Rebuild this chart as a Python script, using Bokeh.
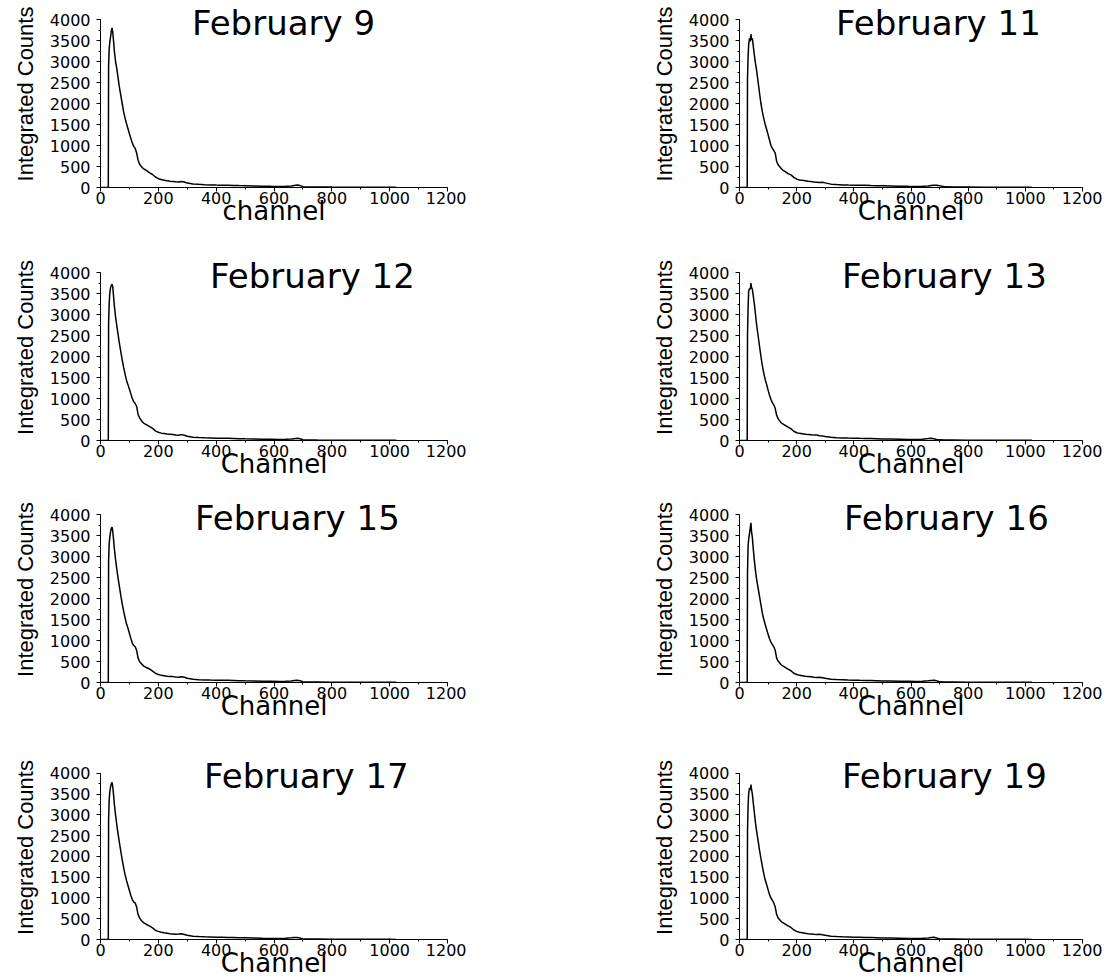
from bokeh.plotting import figure
from bokeh.layouts import column, row
from bokeh.models import SingleIntervalTicker, Range1d, Label
from bokeh.embed import file_html
from bokeh.resources import INLINE

channels = [0, 27, 28, 30, 32, 35, 38, 40, 42, 45,
            48, 52, 56, 60, 65, 70, 75, 80, 85, 90,
            95, 100, 105, 110, 115, 120, 125, 130, 135, 140,
            145, 150, 160, 170, 180, 190, 200, 210, 220, 230,
            240, 250, 260, 270, 280, 290, 300, 320, 340, 360,
            380, 400, 420, 440, 460, 480, 500, 530, 560, 590,
            620, 640, 660, 670, 680, 690, 700, 720, 750, 800,
            850, 900, 950, 1000, 1023]

dates = ["February 9", "February 11", "February 12", "February 13",
         "February 15", "February 16", "February 17", "February 19"]
x_labels = ["channel", "Channel", "Channel", "Channel",
            "Channel", "Channel", "Channel", "Channel"]
y_label = "Integrated Counts"

counts_feb09 = [0, 0, 2900, 3300, 3450, 3600, 3750, 3800, 3720, 3500,
                3250, 3000, 2850, 2650, 2400, 2200, 2000, 1800, 1650, 1520,
                1400, 1280, 1170, 1060, 980, 930, 820, 650, 560, 510,
                470, 440, 400, 350, 310, 250, 210, 190, 175, 160,
                150, 145, 135, 130, 145, 130, 105, 85, 75, 68,
                62, 58, 56, 55, 50, 45, 42, 38, 32, 28,
                25, 28, 38, 50, 58, 45, 20, 14, 11, 9,
                8, 7, 6, 5, 4]
counts_feb11 = [0, 0, 2600, 3100, 3400, 3550, 3480, 3650, 3520, 3550,
                3380, 3150, 2950, 2780, 2520, 2250, 2000, 1800, 1640, 1500,
                1380, 1260, 1130, 1000, 930, 880, 820, 620, 540, 500,
                460, 420, 380, 330, 300, 240, 200, 180, 170, 160,
                150, 145, 130, 125, 120, 125, 110, 80, 70, 62,
                58, 55, 52, 55, 48, 42, 40, 36, 32, 28,
                25, 28, 35, 45, 52, 55, 40, 15, 11, 9,
                8, 7, 6, 5, 4]
counts_feb12 = [0, 0, 2800, 3250, 3500, 3650, 3700, 3720, 3680, 3450,
                3200, 2950, 2750, 2560, 2330, 2120, 1920, 1740, 1580, 1430,
                1330, 1220, 1110, 1000, 920, 880, 810, 620, 540, 490,
                440, 410, 370, 330, 290, 230, 195, 175, 165, 155,
                150, 145, 130, 125, 140, 125, 100, 80, 70, 64,
                60, 56, 54, 52, 48, 44, 40, 36, 30, 27,
                24, 27, 34, 44, 52, 42, 18, 13, 10, 8,
                7, 6, 5, 4, 3]
counts_feb13 = [0, 0, 2500, 3150, 3550, 3620, 3600, 3750, 3650, 3600,
                3450, 3250, 3000, 2750, 2500, 2250, 2000, 1780, 1600, 1450,
                1330, 1200, 1080, 980, 900, 850, 760, 600, 520, 470,
                430, 400, 360, 320, 280, 220, 185, 170, 160, 150,
                140, 135, 128, 130, 115, 110, 95, 78, 68, 62,
                58, 55, 52, 50, 46, 42, 38, 34, 30, 26,
                24, 28, 45, 55, 40, 25, 15, 12, 10, 8,
                7, 6, 5, 4, 3]
counts_feb15 = [0, 0, 2900, 3300, 3450, 3600, 3680, 3700, 3620, 3420,
                3180, 2930, 2720, 2520, 2300, 2080, 1880, 1700, 1540, 1400,
                1290, 1170, 1050, 940, 880, 850, 760, 580, 500, 460,
                420, 390, 350, 320, 270, 220, 190, 170, 160, 150,
                145, 140, 130, 125, 135, 125, 100, 78, 68, 62,
                58, 55, 54, 52, 48, 44, 40, 36, 30, 27,
                24, 28, 36, 48, 55, 40, 18, 12, 10, 8,
                7, 6, 5, 4, 3]
counts_feb16 = [0, 0, 2600, 3250, 3400, 3550, 3700, 3800, 3600, 3450,
                3200, 2900, 2650, 2450, 2250, 2050, 1850, 1650, 1500, 1380,
                1260, 1150, 1040, 960, 900, 850, 760, 580, 510, 470,
                430, 400, 360, 320, 280, 220, 190, 170, 160, 150,
                145, 135, 125, 120, 125, 115, 100, 80, 70, 64,
                58, 55, 52, 50, 46, 42, 38, 34, 30, 27,
                24, 28, 40, 50, 55, 40, 15, 12, 10, 8,
                7, 6, 5, 4, 3]
counts_feb17 = [0, 0, 2900, 3350, 3550, 3680, 3760, 3780, 3700, 3500,
                3250, 3000, 2780, 2580, 2350, 2130, 1920, 1730, 1560, 1420,
                1300, 1180, 1060, 960, 900, 880, 780, 600, 520, 470,
                430, 400, 360, 320, 280, 220, 195, 175, 160, 150,
                140, 135, 125, 130, 140, 120, 100, 80, 70, 64,
                60, 56, 54, 50, 46, 42, 40, 36, 30, 26,
                24, 30, 42, 50, 48, 35, 15, 12, 10, 8,
                7, 6, 5, 4, 3]
counts_feb19 = [0, 0, 2600, 3200, 3500, 3650, 3600, 3730, 3620, 3500,
                3300, 3050, 2800, 2600, 2380, 2150, 1950, 1760, 1580, 1430,
                1320, 1200, 1080, 1000, 940, 880, 780, 600, 520, 480,
                440, 410, 370, 330, 290, 230, 195, 175, 165, 150,
                140, 135, 125, 120, 125, 115, 100, 80, 70, 64,
                60, 56, 54, 50, 46, 42, 38, 34, 30, 26,
                24, 28, 38, 50, 52, 38, 15, 12, 10, 8,
                7, 6, 5, 4, 3]

all_counts = [counts_feb09, counts_feb11, counts_feb12, counts_feb13,
              counts_feb15, counts_feb16, counts_feb17, counts_feb19]

# layout (pixels)
title_center = [633, 696, 733, 717, 681, 724, 712, 717]   # in channel units
row_heights = [254, 242, 259, 225]
row_gap_top = [19, 18, 18, 18]     # space between figure top and the 4000 line
col_widths = [466, 636]
col_left = [100, 273]
col_right = [19, 20]
axis_h = 168                       # pixels from 0 to 4000
Y_MAX = 4000

TICK_FONT = "DejaVu Sans"


def make_panel(i):
    r, c = divmod(i, 2)
    h = row_heights[r]
    per_px = Y_MAX / axis_h
    y_top = Y_MAX + row_gap_top[r] * per_px
    p = figure(width=col_widths[c], height=h,
               x_range=Range1d(0, 1200), y_range=Range1d(0, y_top),
               min_border_left=col_left[c], min_border_right=col_right[c],
               min_border_top=0,
               min_border_bottom=h - row_gap_top[r] - axis_h,
               toolbar_location=None, output_backend="svg",
               background_fill_color="white", border_fill_color="white",
               outline_line_color=None)
    p.xgrid.visible = False
    p.ygrid.visible = False

    p.xaxis.ticker = SingleIntervalTicker(interval=200, num_minor_ticks=2)
    p.yaxis.ticker = SingleIntervalTicker(interval=500, num_minor_ticks=2)
    p.yaxis.bounds = (0, Y_MAX)
    for ax in (p.xaxis[0], p.yaxis[0]):
        ax.axis_line_color = "black"
        ax.axis_line_width = 1
        ax.major_tick_line_color = "black"
        ax.minor_tick_line_color = "black"
        ax.major_tick_in = 0
        ax.major_tick_out = 4
        ax.minor_tick_in = 0
        ax.minor_tick_out = 2
        ax.major_label_text_font = TICK_FONT
        ax.major_label_text_font_size = "16px"
        ax.major_label_text_color = "black"
        ax.axis_label_text_font_style = "normal"
        ax.axis_label_text_color = "black"
    p.xaxis.major_label_standoff = 0
    p.yaxis.major_label_standoff = 6
    p.xaxis.axis_label = x_labels[i]
    p.xaxis.axis_label_text_font = "DejaVu Sans"
    p.xaxis.axis_label_text_font_size = "26px"
    p.xaxis.axis_label_standoff = -11
    p.yaxis.axis_label = y_label
    p.yaxis.axis_label_text_font = "Liberation Sans"
    p.yaxis.axis_label_text_font_size = "22px"
    p.yaxis.axis_label_standoff = 9

    p.line(channels, all_counts[i], line_color="black", line_width=1.5)

    title_y = Y_MAX - 3 * per_px
    p.add_layout(Label(x=title_center[i], y=title_y, text=dates[i],
                       text_align="center", text_baseline="alphabetic",
                       text_font="DejaVu Sans", text_font_size="34px",
                       text_color="black"))
    return p


panels = [make_panel(i) for i in range(8)]
layout = column(*[row(panels[2 * r], panels[2 * r + 1], spacing=0) for r in range(4)],
                spacing=0)

open("out.html", "w").write(file_html(layout, INLINE, title="Integrated Counts"))
